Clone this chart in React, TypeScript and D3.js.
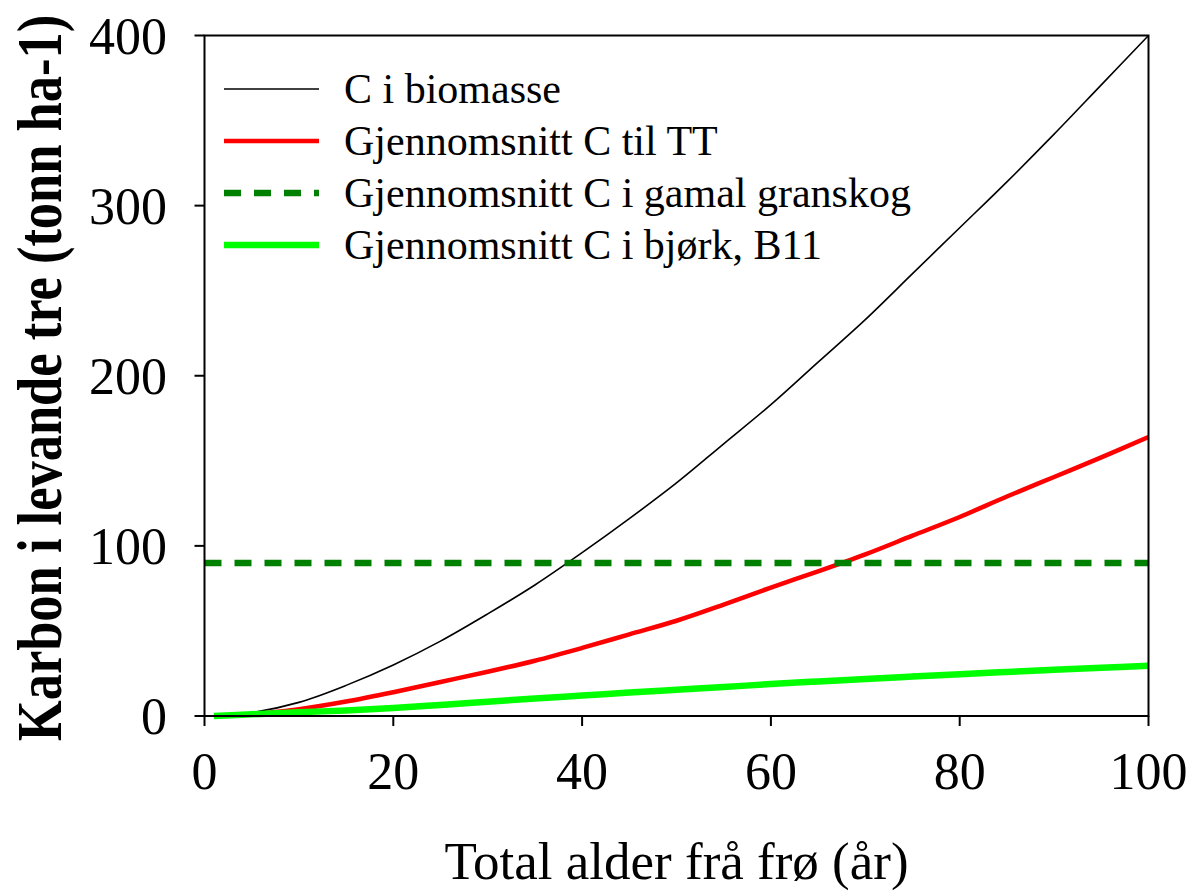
import React from "react";
import * as d3 from "d3";

// Age from seed (years)
const ages = [1, 5, 10, 15, 20, 25, 30, 35, 40, 45, 50, 55, 60, 65, 70, 75, 80, 85, 90, 95, 100];
// Carbon in biomass (tonn/ha)
const biomasse = [0, 2, 8, 18, 30, 44, 60, 77, 96, 116, 137, 160, 183, 208, 233, 260, 287, 314, 342, 371, 400];
// Mean carbon to TT
const snittTT = [0, 1, 4, 8.5, 14, 20, 26, 32.5, 40, 48, 56, 65.5, 75.5, 85, 95, 106, 117, 129, 140.5, 152, 164];
// Mean carbon in birch, B11
const bjork = [0, 1, 2.2, 3.3, 4.7, 6.5, 8.4, 10.3, 12, 13.8, 15.4, 17, 18.8, 20.3, 21.8, 23.2, 24.6, 25.9, 27.2, 28.4, 29.5];
// Mean carbon in old spruce forest (constant)
const gamalGranskogAges = [0, 100];
const gamalGranskog = [90, 90];

const xTicks = [0, 20, 40, 60, 80, 100];
const yTicks = [0, 100, 200, 300, 400];

const legendLabels = [
  "C i biomasse",
  "Gjennomsnitt C til TT",
  "Gjennomsnitt C i gamal granskog",
  "Gjennomsnitt C i bjørk, B11",
];

const W = 1193;
const H = 893;
const M = { left: 204.5, right: 1148.5, top: 35.5, bottom: 716 };
const FONT = "'Liberation Serif', 'Times New Roman', serif";

export default function App() {
  const x = d3.scaleLinear().domain([0, 100]).range([M.left, M.right]);
  const y = d3.scaleLinear().domain([0, 400]).range([M.bottom, M.top]);

  const line = d3
    .line<[number, number]>()
    .x((d) => x(d[0]))
    .y((d) => y(d[1]))
    .curve(d3.curveCatmullRom.alpha(0.5));

  const zip = (xs: number[], ys: number[]) => xs.map((v, i) => [v, ys[i]] as [number, number]);

  const series = [
    { d: zip(ages, biomasse), color: "#000000", width: 1.6, dash: undefined as string | undefined },
    { d: zip(ages, snittTT), color: "#ff0000", width: 4.5, dash: undefined },
    { d: zip(gamalGranskogAges, gamalGranskog), color: "#008000", width: 6.5, dash: "17 13" },
    { d: zip(ages, bjork), color: "#00ff00", width: 6.5, dash: undefined },
  ];

  const legendY = [89, 141, 193, 245];

  return (
    <div style={{ position: "absolute", left: 0, top: 0 }}>
      <svg width={W} height={H} style={{ display: "block", background: "#fff" }}>
        {/* data lines */}
        {series.map((s, i) => (
          <path
            key={i}
            d={line(s.d) || ""}
            fill="none"
            stroke={s.color}
            strokeWidth={s.width}
            strokeDasharray={s.dash}
          />
        ))}

        {/* frame */}
        <rect
          x={M.left}
          y={M.top}
          width={M.right - M.left}
          height={M.bottom - M.top}
          fill="none"
          stroke="#000"
          strokeWidth={2}
        />

        {/* y axis ticks */}
        {yTicks.map((t) => (
          <g key={"y" + t}>
            <line x1={M.left - 10} x2={M.left} y1={y(t)} y2={y(t)} stroke="#000" strokeWidth={2} />
            <text
              x={167}
              y={y(t)}
              dy="0.35em"
              textAnchor="end"
              fontFamily={FONT}
              fontSize={52}
              fill="#000"
            >
              {t}
            </text>
          </g>
        ))}

        {/* x axis ticks */}
        {xTicks.map((t) => (
          <g key={"x" + t}>
            <line x1={x(t)} x2={x(t)} y1={M.bottom} y2={M.bottom + 10} stroke="#000" strokeWidth={2} />
            <text
              x={x(t)}
              y={789}
              textAnchor="middle"
              fontFamily={FONT}
              fontSize={52}
              fill="#000"
            >
              {t}
            </text>
          </g>
        ))}

        {/* axis titles */}
        <text
          x={676.5}
          y={879}
          textAnchor="middle"
          fontFamily={FONT}
          fontSize={53}
          fill="#000"
        >
          Total alder frå frø (år)
        </text>
        {/* condensed bold y title */}
        <text
          transform={`translate(61, 378) rotate(-90) scale(0.905, 1.08)`}
          textAnchor="middle"
          fontFamily={FONT}
          fontWeight="bold"
          fontSize={58}
          fill="#000"
        >
          Karbon i levande tre (tonn ha-1)
        </text>

        {/* legend */}
        {series.map((s, i) => (
          <g key={"lg" + i}>
            <line
              x1={224}
              x2={319}
              y1={legendY[i]}
              y2={legendY[i]}
              stroke={s.color}
              strokeWidth={s.width}
              strokeDasharray={s.dash}
            />
            <text
              x={344}
              y={legendY[i] + 14}
              fontFamily={FONT}
              fontSize={42}
              fill="#000"
            >
              {legendLabels[i]}
            </text>
          </g>
        ))}
      </svg>
    </div>
  );
}
